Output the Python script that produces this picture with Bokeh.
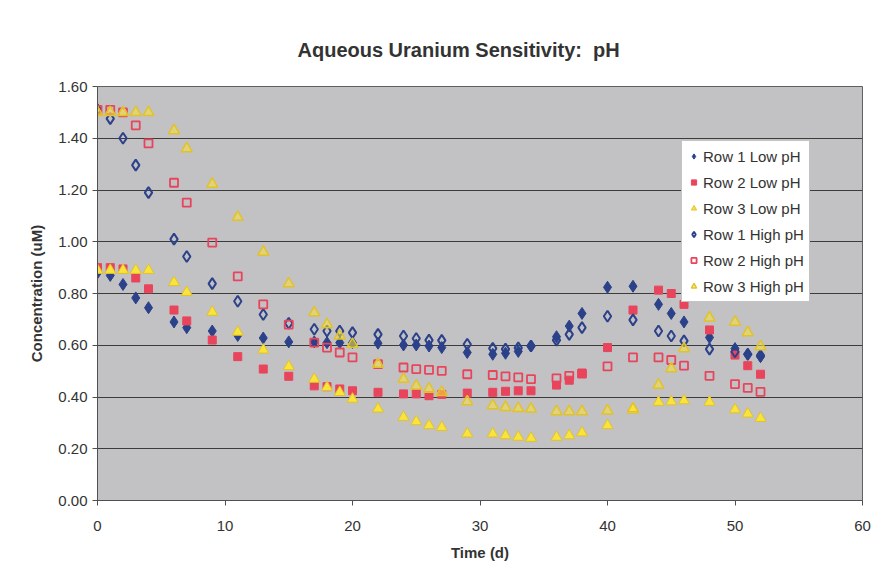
from bokeh.plotting import figure
from bokeh.models import Legend, LegendItem, FixedTicker, NumeralTickFormatter, Range1d
from bokeh.embed import file_html
from bokeh.resources import INLINE

# Sampling times (days)
time_d = [0, 1, 2, 3, 4, 6, 7, 9, 11, 13, 15, 17, 18, 19, 20, 22, 24, 25, 26, 27,
          29, 31, 32, 33, 34, 36, 37, 38, 40, 42, 44, 45, 46, 48, 50, 51, 52]

# Aqueous uranium concentration (uM) per monitoring row
row1_low = [0.88, 0.87, 0.835, 0.783, 0.745, 0.69, 0.668, 0.655, 0.638, 0.628, 0.613,
            0.613, 0.61, 0.61, 0.61, 0.608, 0.601, 0.601, 0.597, 0.591, 0.572, 0.565,
            0.569, 0.576, 0.597, 0.633, 0.674, 0.723, 0.824, 0.828, 0.758, 0.723,
            0.69, 0.63, 0.587, 0.565, 0.556]
row2_low = [0.90, 0.90, 0.895, 0.86, 0.818, 0.736, 0.694, 0.62, 0.556, 0.508, 0.48,
            0.443, 0.44, 0.431, 0.424, 0.418, 0.412, 0.412, 0.405, 0.41, 0.415, 0.418,
            0.422, 0.424, 0.424, 0.446, 0.465, 0.492, 0.591, 0.736, 0.813, 0.80,
            0.758, 0.659, 0.562, 0.521, 0.488]
row3_low = [0.89, 0.89, 0.89, 0.89, 0.89, 0.843, 0.805, 0.728, 0.651, 0.582, 0.518,
            0.469, 0.437, 0.418, 0.392, 0.354, 0.322, 0.305, 0.29, 0.283, 0.258, 0.258,
            0.251, 0.245, 0.241, 0.245, 0.251, 0.262, 0.29, 0.35, 0.38, 0.382,
            0.386, 0.38, 0.351, 0.335, 0.318]
row1_high = [1.51, 1.476, 1.40, 1.296, 1.19, 1.01, 0.943, 0.838, 0.77, 0.719, 0.685,
             0.662, 0.655, 0.655, 0.649, 0.642, 0.636, 0.626, 0.62, 0.619, 0.604, 0.588,
             0.585, 0.59, 0.597, 0.62, 0.642, 0.668, 0.712, 0.698, 0.655, 0.636,
             0.617, 0.585, 0.575, 0.565, 0.56]
row2_high = [1.51, 1.51, 1.50, 1.45, 1.38, 1.228, 1.151, 0.997, 0.866, 0.758, 0.68,
             0.61, 0.591, 0.572, 0.553, 0.527, 0.514, 0.508, 0.505, 0.501, 0.488, 0.485,
             0.48, 0.476, 0.469, 0.472, 0.482, 0.49, 0.518, 0.553, 0.553, 0.543,
             0.521, 0.482, 0.45, 0.435, 0.42]
row3_high = [1.50, 1.50, 1.50, 1.50, 1.50, 1.43, 1.36, 1.223, 1.095, 0.96, 0.838,
             0.726, 0.68, 0.636, 0.604, 0.527, 0.469, 0.443, 0.431, 0.418, 0.382, 0.367,
             0.36, 0.356, 0.354, 0.344, 0.344, 0.344, 0.347, 0.355, 0.446, 0.51,
             0.587, 0.706, 0.69, 0.649, 0.595]

series_names = ["Row 1 Low pH", "Row 2 Low pH", "Row 3 Low pH",
                "Row 1 High pH", "Row 2 High pH", "Row 3 High pH"]
y_ticks = [0.0, 0.2, 0.4, 0.6, 0.8, 1.0, 1.2, 1.4, 1.6]
x_ticks = [0, 10, 20, 30, 40, 50, 60]

BLUE = "#2B4189"
RED = "#E8455C"
YELLOW = "#F8E43C"
YELLOW_EDGE = "#E2C22A"
FONT = "Liberation Sans"

p = figure(width=887, height=580, output_backend="svg", toolbar_location=None,
           x_range=Range1d(0, 60), y_range=Range1d(0, 1.6),
           min_border_left=97, min_border_right=25, min_border_top=86,
           min_border_bottom=80)

p.background_fill_color = "#C2C1C4"
p.border_fill_color = "white"
p.outline_line_color = "#606060"
p.outline_line_width = 1

# two spaces after the colon, kept with a no-break space
p.title.text = "Aqueous Uranium Sensitivity:\u00a0 pH"
p.title.align = "left"
p.title.offset = 200
p.title.text_font = FONT
p.title.text_font_size = "20px"
p.title.text_font_style = "bold"
p.title.text_color = "#333333"
p.title.standoff = 52

p.xgrid.visible = False
p.ygrid.ticker = FixedTicker(ticks=y_ticks)
p.ygrid.grid_line_color = "#3C3C3C"
p.ygrid.grid_line_width = 1

for ax in (p.xaxis[0], p.yaxis[0]):
    ax.axis_line_color = "#505050"
    ax.major_tick_line_color = "#505050"
    ax.major_tick_out = 5
    ax.major_tick_in = 0
    ax.minor_tick_line_color = None
    ax.major_label_text_font = FONT
    ax.major_label_text_font_size = "15px"
    ax.major_label_text_color = "#333333"
    ax.axis_label_text_font = FONT
    ax.axis_label_text_font_style = "bold"
    ax.axis_label_text_font_size = "15px"
    ax.axis_label_text_color = "#333333"

p.xaxis.ticker = FixedTicker(ticks=x_ticks)
p.xaxis.axis_label = "Time (d)"
p.xaxis.major_label_standoff = 15
p.xaxis.axis_label_standoff = 10

p.yaxis.ticker = FixedTicker(ticks=y_ticks)
p.yaxis.formatter = NumeralTickFormatter(format="0.00")
p.yaxis.axis_label = "Concentration (uM)"
p.yaxis.major_label_standoff = 5
p.yaxis.axis_label_standoff = 10

r1l = p.scatter(time_d, row1_low, marker="diamond", size=12,
                fill_color=BLUE, line_color=BLUE)
r2l = p.scatter(time_d, row2_low, marker="square", size=8,
                fill_color=RED, line_color=RED)
r3l = p.scatter(time_d, row3_low, marker="triangle", size=11,
                fill_color=YELLOW, line_color=YELLOW_EDGE)
r1h = p.scatter(time_d, row1_high, marker="diamond", size=11,
                fill_color=None, line_color=BLUE, line_width=2)
r2h = p.scatter(time_d, row2_high, marker="square", size=8,
                fill_color=None, line_color=RED, line_width=1.8)
r3h = p.scatter(time_d, row3_high, marker="triangle", size=11,
                fill_color=YELLOW, fill_alpha=0.55, line_color=YELLOW_EDGE,
                line_width=1.5)

renderers = [r1l, r2l, r3l, r1h, r2h, r3h]
legend = Legend(items=[LegendItem(label=n, renderers=[r]) for n, r in zip(series_names, renderers)],
                location=(584, 198))
legend.label_text_font = FONT
legend.label_text_font_size = "15px"
legend.label_text_color = "#333333"
legend.background_fill_color = "white"
legend.background_fill_alpha = 1.0
legend.border_line_color = "#8A8A8A"
legend.border_line_width = 1
legend.padding = 5
legend.margin = 0
legend.spacing = 6
legend.label_height = 20
legend.glyph_height = 20
legend.glyph_width = 13
legend.label_standoff = 3
p.add_layout(legend, "center")

open("out.html", "w").write(file_html(p, INLINE))
